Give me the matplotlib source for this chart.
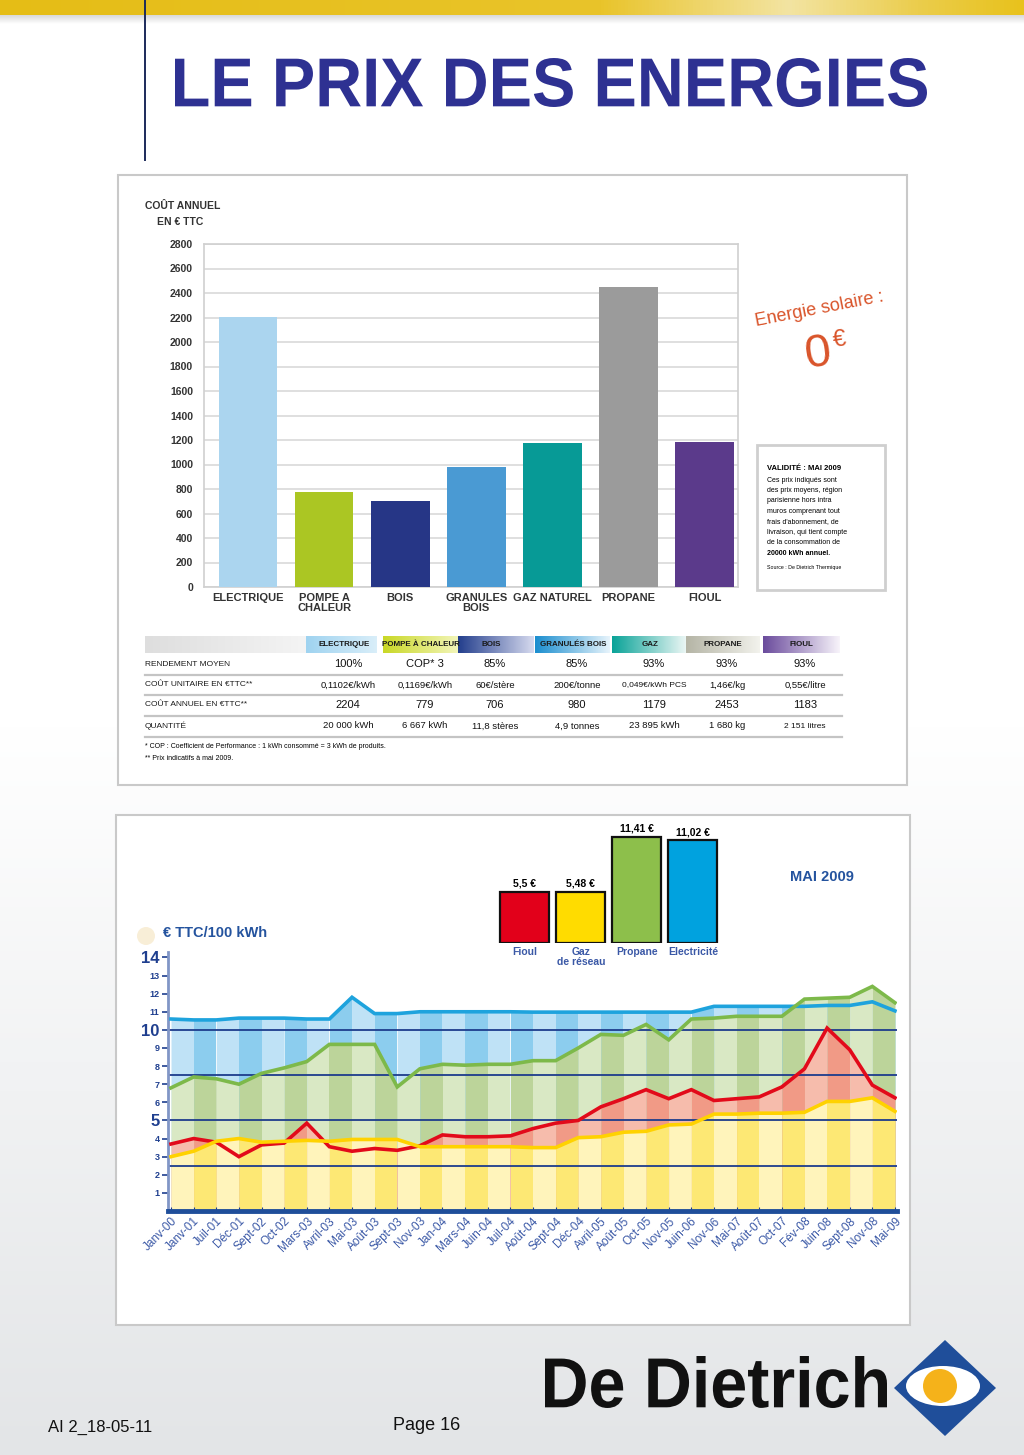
import numpy as np
import matplotlib
matplotlib.use('Agg')
import matplotlib.pyplot as plt
from matplotlib import font_manager
from matplotlib.font_manager import FontProperties
from matplotlib.patches import Rectangle, Polygon, Ellipse, Circle, PathPatch
from matplotlib.textpath import TextPath
from matplotlib.transforms import Affine2D
from matplotlib.colors import to_rgb

# ---- data ----
cost_cats = ['ELECTRIQUE', 'POMPE A\nCHALEUR', 'BOIS', 'GRANULES\nBOIS', 'GAZ NATUREL', 'PROPANE', 'FIOUL']
cost_vals = [2204, 779, 706, 980, 1179, 2453, 1183]
cost_cols = ['#abd5ef', '#abc623', '#263686', '#4a9ad3', '#079a96', '#9b9b9b', '#5b3a8b']

tab_heads = ['ELECTRIQUE', 'POMPE À CHALEUR', 'BOIS', 'GRANULÉS BOIS', 'GAZ', 'PROPANE', 'FIOUL']
tab_rows = ['RENDEMENT MOYEN', 'COÛT UNITAIRE EN €TTC**', 'COÛT ANNUEL EN €TTC**', 'QUANTITÉ']
tab_rendement = ['100%', 'COP* 3', '85%', '85%', '93%', '93%', '93%']
tab_unitaire = ['0,1102€/kWh', '0,1169€/kWh', '60€/stère', '200€/tonne', '0,049€/kWh PCS', '1,46€/kg', '0,55€/litre']
tab_annuel = ['2204', '779', '706', '980', '1179', '2453', '1183']
tab_quantite = ['20 000 kWh', '6 667 kWh', '11,8 stères', '4,9 tonnes', '23 895 kWh', '1 680 kg', '2 151 litres']

months = ['Janv-00', 'Janv-01', 'Juil-01', 'Déc-01', 'Sept-02', 'Oct-02', 'Mars-03', 'Avril-03',
          'Mai-03', 'Août-03', 'Sept-03', 'Nov-03', 'Jan-04', 'Mars-04', 'Juin-04', 'Juil-04',
          'Août-04', 'Sept-04', 'Déc-04', 'Avril-05', 'Août-05', 'Oct-05', 'Nov-05', 'Juin-06',
          'Nov-06', 'Mai-07', 'Août-07', 'Oct-07', 'Fév-08', 'Juin-08', 'Sept-08', 'Nov-08', 'Mai-09']
electricite = [10.6, 10.55, 10.55, 10.65, 10.65, 10.65, 10.6, 10.6, 11.8, 10.9, 10.9, 11.0, 11.0,
               11.0, 11.0, 11.0, 10.98, 10.98, 10.98, 10.98, 10.98, 10.98, 10.98, 10.98, 11.3,
               11.3, 11.3, 11.3, 11.3, 11.35, 11.35, 11.55, 11.05]
propane = [6.8, 7.4, 7.3, 7.0, 7.6, 7.9, 8.25, 9.2, 9.2, 9.2, 6.85, 7.85, 8.1, 8.05, 8.1, 8.1,
           8.3, 8.3, 9.0, 9.75, 9.7, 10.3, 9.45, 10.6, 10.65, 10.75, 10.75, 10.75, 11.7, 11.75,
           11.8, 12.4, 11.5]
fioul = [3.7, 4.0, 3.8, 3.0, 3.65, 3.75, 4.85, 3.55, 3.3, 3.45, 3.35, 3.6, 4.2, 4.1, 4.1, 4.15,
         4.55, 4.85, 5.0, 5.75, 6.2, 6.7, 6.2, 6.7, 6.1, 6.2, 6.3, 6.85, 7.85, 10.1, 8.9, 6.95, 6.25]
gaz = [3.0, 3.3, 3.85, 4.0, 3.8, 3.85, 3.9, 3.85, 3.95, 3.95, 3.95, 3.55, 3.55, 3.55, 3.55, 3.55,
       3.5, 3.5, 4.05, 4.1, 4.35, 4.4, 4.75, 4.8, 5.35, 5.35, 5.4, 5.4, 5.45, 6.05, 6.05, 6.25, 5.5]

mai_labels = ['Fioul', 'Gaz\nde réseau', 'Propane', 'Electricité']
mai_vals = [5.5, 5.48, 11.41, 11.02]
mai_text = ['5,5 €', '5,48 €', '11,41 €', '11,02 €']
mai_cols = ['#e2001a', '#ffdc00', '#8dbf4b', '#00a2df']

# ---- fonts ----
names = {f.name for f in font_manager.fontManager.ttflist}
narrow = 'Liberation Sans Narrow' if 'Liberation Sans Narrow' in names else 'Liberation Sans'
plt.rcParams['font.family'] = [narrow, 'DejaVu Sans']

W, H = 1024, 1455
fig = plt.figure(figsize=(W / 100, H / 100), dpi=100)


def add_px(l, t, r, b, **kw):
    return fig.add_axes([l / W, 1 - b / H, (r - l) / W, (b - t) / H], **kw)


def hgrad(c1, c2, n=64):
    a, b = np.array(to_rgb(c1)), np.array(to_rgb(c2))
    t = np.linspace(0, 1, n)[:, None]
    return (a * (1 - t) + b * t)[None, :, :]


bg = fig.add_axes([0, 0, 1, 1])
bg.set_xlim(0, W)
bg.set_ylim(H, 0)
bg.axis('off')


def path_text(s, x0, x1, ytop, ybase, color, zorder=3):
    # condensed bold lettering stretched into a box
    tp = TextPath((0, 0), s, size=1, prop=FontProperties(family='Liberation Sans', weight='bold'))
    ext = tp.get_extents()
    sx = (x1 - x0) / ext.width
    sy = (ybase - ytop) / ext.height
    tr = Affine2D().translate(-ext.x0, -ext.y0).scale(sx, -sy).translate(x0, ybase)
    bg.add_patch(PathPatch(tr.transform_path(tp), fc=color, ec='none', zorder=zorder))


# slide background
yy = np.linspace(0, 1, 300)[:, None, None]
top = np.array([1.0, 1.0, 1.0])
bot = np.array(to_rgb('#e3e5e7'))
g = np.clip((yy - 0.5) / 0.5, 0, 1)
bg.imshow(np.repeat(top * (1 - g) + bot * g, 2, axis=1), extent=[0, W, H, 0], aspect='auto', zorder=0)

# yellow band
stops_x = [0, 600, 790, 920, 1024]
stops_c = ['#e5bd16', '#e9c42a', '#f3e4a2', '#ebcd4c', '#e8c21c']
xs = np.linspace(0, 1024, 300)
band = np.stack([np.interp(xs, stops_x, [to_rgb(c)[k] for c in stops_c]) for k in range(3)], axis=-1)[None]
bg.imshow(band, extent=[0, W, 15, 0], aspect='auto', zorder=1)
bg.imshow(np.repeat(np.linspace(0.85, 1, 20)[:, None, None].repeat(3, axis=2), 2, axis=1),
          extent=[0, W, 24, 15], aspect='auto', zorder=1)
bg.plot([145, 145], [0, 160], color='#1c2a5a', lw=1.4, zorder=2)

path_text('LE PRIX DES ENERGIES', 175, 927, 58, 107, '#2e3192')

# panels
bg.add_patch(Rectangle((118, 175), 789, 610, fc='white', ec='#c9c9c9', lw=1.5, zorder=1))
bg.add_patch(Rectangle((116, 815), 794, 510, fc='white', ec='#c9c9c9', lw=1.5, zorder=1))

# ---- top bar chart ----
ax1 = add_px(204, 244, 738, 587)
ax1.set_facecolor('none')
x = np.arange(len(cost_vals))
ax1.bar(x, cost_vals, width=0.77, color=cost_cols, zorder=3)
ax1.set_xlim(-0.58, 6.44)
ax1.set_ylim(0, 2800)
ax1.set_yticks(range(0, 2801, 200))
ax1.grid(axis='y', color='#d9d9d9', lw=1.2, zorder=0)
for s in ax1.spines.values():
    s.set_color('#d0d0d0')
    s.set_linewidth(1.2)
ax1.tick_params(axis='y', length=0, labelsize=7.5, labelcolor='#333333', pad=8)
ax1.tick_params(axis='x', length=0, labelsize=8, labelcolor='#333333', pad=4)
ax1.set_xticks(x)
ax1.set_xticklabels(cost_cats, fontweight='bold', linespacing=1.1)
for lb in ax1.get_yticklabels():
    lb.set_fontweight('bold')
bg.text(145, 206, 'COÛT ANNUEL', fontsize=7.5, weight='bold', color='#333333', va='center', zorder=3)
bg.text(157, 222, 'EN € TTC', fontsize=7.5, weight='bold', color='#333333', va='center', zorder=3)

bg.text(819, 309, 'Energie solaire :', rotation=11, color='#d9542a', fontsize=13,
        ha='center', va='center', zorder=3)
bg.text(818, 354, '0', rotation=8, color='#d9542a', fontsize=34, ha='center', va='center', zorder=3)
bg.text(840, 340, '€', rotation=8, color='#d9542a', fontsize=17, ha='center', va='center', zorder=3)

bg.add_patch(Rectangle((757, 445), 128, 145, fc='white', ec='#cfcfcf', lw=2, zorder=2))
bg.text(767, 468, 'VALIDITÉ : MAI 2009', fontsize=5.5, weight='bold', va='center', zorder=3)
valid = ['Ces prix indiqués sont', 'des prix moyens, région', 'parisienne hors intra',
         'muros comprenant tout', "frais d'abonnement, de", 'livraison, qui tient compte',
         'de la consommation de', '20000 kWh annuel.']
for i, ln in enumerate(valid):
    bg.text(767, 480 + i * 10.5, ln, fontsize=5, va='center', zorder=3,
            weight='bold' if i == len(valid) - 1 else 'normal')
bg.text(767, 568, 'Source : De Dietrich Thermique', fontsize=3.8, va='center', zorder=3)

# ---- table ----
cells = [(145, 306, '#dedede', '#f4f4f4'), (306, 377, '#9fd3f0', '#d9eef9'),
         (383, 458, '#c9d826', '#f2f5b8'), (458, 534, '#243f8d', '#d5d9ee'),
         (535, 610, '#1b8ecf', '#e6f3fb'), (612, 686, '#0aa398', '#eaf6f4'),
         (686, 760, '#b5b5a6', '#f2f2ec'), (763, 840, '#6b4c9d', '#f7f3fa')]
for l, r, c1, c2 in cells:
    bg.imshow(hgrad(c1, c2), extent=[l, r, 653, 636], aspect='auto', zorder=2)
col_x = [344, 421, 491, 573, 650, 723, 801]
for cx, hd in zip(col_x, tab_heads):
    bg.text(cx, 644.5, hd, fontsize=5.8, weight='bold', color='#1a1a1a', ha='center',
            va='center', zorder=3)
row_y = [664, 685, 705, 726]
for yv in [675, 695, 716, 737]:
    bg.plot([145, 842], [yv, yv], color='#c4c4c4', lw=1.6, zorder=2)
for ry, lab, vals in zip(row_y, tab_rows, [tab_rendement, tab_unitaire, tab_annuel, tab_quantite]):
    bg.text(145, ry, lab, fontsize=6, color='#1a1a1a', va='center', zorder=3)
    for cx, v in zip(col_x, vals):
        fs = 8 if len(v) <= 6 else (6.8 if len(v) < 12 else 6)
        bg.text(cx + 4, ry, v, fontsize=fs, color='#111111',
                ha='center', va='center', zorder=3)
bg.text(145, 747, '* COP : Coefficient de Performance : 1 kWh consommé = 3 kWh de produits.',
        fontsize=5, va='center', zorder=3)
bg.text(145, 758, '** Prix indicatifs à mai 2009.', fontsize=5, va='center', zorder=3)

# ---- bottom line chart ----
ax2 = add_px(168, 952, 897, 1211)
ax2.set_facecolor('none')
xi = np.arange(len(months))
series = [(electricite, '#8ccdee', '#bfe2f6', '#1ea3dd'),
          (propane, '#bcd49a', '#d9e8c4', '#7db94a'),
          (fioul, '#f19a86', '#f6bcac', '#e20a1a'),
          (gaz, '#fde874', '#fff4bb', '#ffd200')]
for vals, dark, light, lc in series:
    v = np.array(vals)
    for i in range(len(xi) - 1):
        ax2.fill_between(xi[i:i + 2], 0, v[i:i + 2], color=light if i % 2 == 0 else dark,
                         lw=0, zorder=1)
for yv in [2.5, 5, 7.5, 10]:
    ax2.axhline(yv, color='#1d3c8c', lw=1.3, zorder=2)
for vals, dark, light, lc in series:
    ax2.plot(xi, vals, color=lc, lw=2.6, zorder=3, solid_joinstyle='miter')
ax2.set_xlim(-0.133, 32.09)
ax2.set_ylim(0, 14.3)
ax2.spines['top'].set_visible(False)
ax2.spines['right'].set_visible(False)
ax2.spines['left'].set_color('#8196c6')
ax2.spines['left'].set_linewidth(2)
ax2.spines['bottom'].set_color('#1f4e9a')
ax2.spines['bottom'].set_linewidth(3.5)
ax2.set_yticks(range(1, 15))
ax2.set_yticklabels([str(k) for k in range(1, 15)])
for k, lb in zip(range(1, 15), ax2.get_yticklabels()):
    lb.set_fontweight('bold')
    lb.set_fontsize(12 if k in (5, 10, 14) else 6.5)
ax2.tick_params(axis='y', colors='#1f3f8f', length=4, width=1.2, pad=2)
ax2.set_xticks(xi)
ax2.set_xticklabels(months, rotation=45, ha='right', rotation_mode='anchor')
ax2.tick_params(axis='x', direction='in', length=3, color='#1f3f8f', labelsize=8.5,
                labelcolor='#3a58a6', pad=3)
bg.text(163, 933, '€ TTC/100 kWh', fontsize=10.5, weight='bold', color='#24539e',
        va='center', zorder=3)
bg.add_patch(Circle((146, 936), 9, fc='#f6e7c6', ec='none', alpha=0.7, zorder=2))
bg.text(822, 877, 'MAI 2009', fontsize=10.5, weight='bold', color='#24539e', ha='center',
        va='center', zorder=3)

ax3 = add_px(495, 827, 722, 943)
ax3.set_facecolor('none')
ax3.bar(np.arange(4), mai_vals, width=0.875, color=mai_cols, edgecolor='#111111', lw=1.6)
ax3.set_xlim(-0.53, 3.52)
ax3.set_ylim(0, 12.47)
ax3.axis('off')
for i, (v, t, lab) in enumerate(zip(mai_vals, mai_text, mai_labels)):
    ax3.text(i, v + 0.35, t, fontsize=7.5, weight='bold', ha='center', va='bottom')
    ax3.text(i, -0.45, lab, fontsize=7.5, weight='bold', color='#3a58a6', ha='center',
             va='top', linespacing=1.0)

# ---- footer ----
bg.text(48, 1427, 'AI 2_18-05-11', fontsize=12, color='#111111', va='center',
        family=['Liberation Sans', 'DejaVu Sans'], zorder=3)
bg.text(393, 1425, 'Page 16', fontsize=13, color='#111111', va='center',
        family=['Liberation Sans', 'DejaVu Sans'], zorder=3)
path_text('De Dietrich', 545, 887, 1356, 1408, '#111111')
bg.add_patch(Polygon([(945, 1340), (996, 1388), (945, 1436), (894, 1388)], closed=True,
                     fc='#1f4e9a', ec='none', zorder=3))
bg.add_patch(Ellipse((943, 1386), 74, 40, fc='white', ec='none', zorder=4))
bg.add_patch(Circle((940, 1386), 17, fc='#f5b21a', ec='none', zorder=5))

fig.savefig('out.png', dpi=100)
